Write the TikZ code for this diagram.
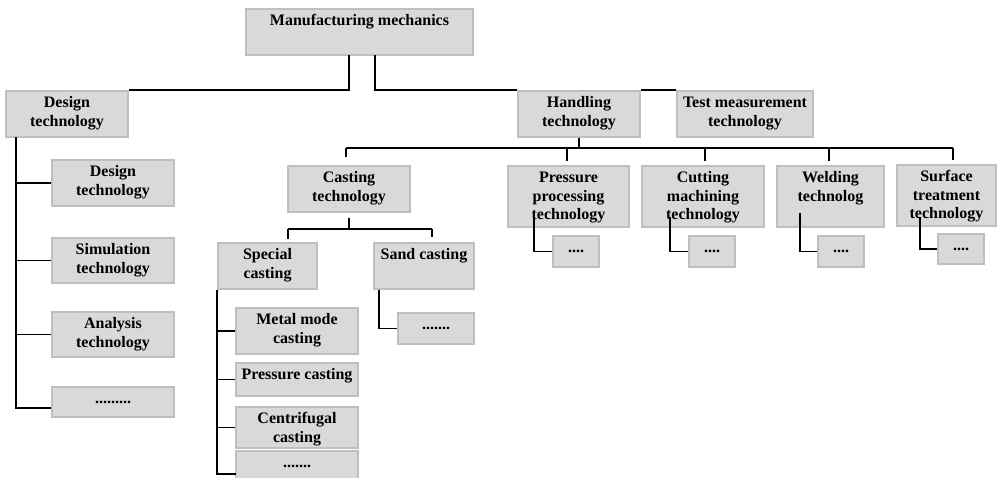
\documentclass[tikz,border=0pt]{standalone}
\usepackage{fontspec}
\setmainfont{Liberation Serif}
\definecolor{boxfill}{HTML}{D9D9D9}
\definecolor{boxline}{HTML}{BFBFBF}
\tikzset{
  gb/.style={draw=boxline, fill=boxfill, line width=1.5pt, inner sep=0pt},
  lbl/.style={font=\fontsize{16}{18.6}\selectfont\bfseries, align=center, inner sep=0pt},
  conn/.style={draw=black, line width=1.6pt},
}
% box with text at top
\newcommand\gbox[6]{%
  \node[gb, minimum width={(#4-#2)*1pt}, minimum height={(#5-#3)*1pt}] (#1) at ({(#2+#4)/2},{(#3+#5)/2}) {};
  \node[lbl, anchor=north] (#1t) at ([yshift=-6pt]#1.north) {\rule{0pt}{11pt}#6};}
% box with centred dots
\newcommand\dbox[6]{%
  \node[gb, minimum width={(#4-#2)*1pt}, minimum height={(#5-#3)*1pt}] (#1) at ({(#2+#4)/2},{(#3+#5)/2}) {};
  \node[lbl] (#1t) at (#1.center) {#6};}
\begin{document}
\begin{tikzpicture}[x=1pt,y=-1pt]
\useasboundingbox (0,0) rectangle (997,478);
\gbox{mm}{246}{9}{473}{55}{Manufacturing mechanics}
\gbox{dt}{6}{91}{128}{137}{Design\\technology}
\gbox{ht}{518}{91}{640}{137}{Handling\\technology}
\gbox{tm}{677}{91}{813}{137}{Test measurement\\technology}
\gbox{ct}{288}{166}{410}{212}{Casting\\technology}
\gbox{pp}{508}{166}{629}{227}{Pressure\\processing\\technology}
\gbox{cm}{642}{166}{764}{227}{Cutting\\machining\\technology}
\gbox{wt}{777}{166}{884}{227}{Welding\\technolog}
\gbox{st}{897}{165}{996}{226}{Surface\\treatment\\technology}
\dbox{ppd}{553}{236}{599}{267}{....}
\dbox{cmd}{689}{236}{735}{267}{....}
\dbox{wtd}{818}{236}{864}{267}{....}
\dbox{std}{938}{234}{984}{264}{....}
\gbox{d1}{52}{160}{174}{206}{Design\\technology}
\gbox{d2}{52}{238}{174}{283}{Simulation\\technology}
\gbox{d3}{52}{312}{174}{357}{Analysis\\technology}
\dbox{d4}{52}{387}{174}{417}{.........}
\gbox{sc}{218}{243}{317}{289}{Special\\casting}
\gbox{sa}{374}{243}{474}{289}{Sand casting}
\dbox{sad}{398}{313}{474}{344}{.......}
\gbox{s1}{236}{308}{358}{354}{Metal mode\\casting}
\gbox{s2}{236}{363}{358}{396}{Pressure casting}
\gbox{s3}{236}{407}{358}{448}{Centrifugal\\casting}
\dbox{s4}{236}{451}{358}{481}{.......}
% top level
\coordinate (mmL) at (349,55);
\coordinate (mmR) at (375,55);
\draw[conn] (mmL) |- (dt.north east);
\draw[conn] (mmR) |- (ht.north west);
\draw[conn] (ht.north east) -- (tm.north west);
% handling bus
\coordinate (busL) at (346,148);
\coordinate (busR) at (953,148);
\coordinate (b1) at (567,148);
\coordinate (b2) at (705,148);
\coordinate (b3) at (829,148);
\draw[conn] (ht.south) -- (ht.south |- busL);
\draw[conn] (busL) -- (busR);
\draw[conn, shorten >=8pt] (busL) -- (busL |- ct.north);
\draw[conn, shorten >=4.5pt] (b1) -- (b1 |- pp.north);
\draw[conn, shorten >=4.5pt] (b2) -- (b2 |- cm.north);
\draw[conn, shorten >=4.5pt] (b3) -- (b3 |- wt.north);
\draw[conn, shorten >=4.5pt] (busR) -- (busR |- st.north);
% small dots connectors
\coordinate (ppv) at (534,217);
\coordinate (cmv) at (670,217);
\coordinate (wtv) at (800,213);
\coordinate (stv) at (920,217);
\draw[conn] (ppv) |- (ppd.west);
\draw[conn] (cmv) |- (cmd.west);
\draw[conn] (wtv) |- (wtd.west);
\draw[conn] (stv) |- (std.west);
% design column
\coordinate (dv) at (16,137);
\draw[conn] (dv) |- ([yshift=-6pt]d4.west);
\draw[conn] (dv |- d1.west) -- (d1.west);
\draw[conn] (dv |- d2.west) -- (d2.west);
\draw[conn] (dv |- d3.west) -- (d3.west);
% casting
\coordinate (cj) at (349,229);
\coordinate (cjL) at (288,229);
\coordinate (cjR) at (432,229);
\draw[conn, shorten <=5pt] (ct.south) -- (cj);
\draw[conn] (cjL) -- (cjR);
\draw[conn, shorten >=3pt] (cjL) -- (cjL |- sc.north);
\draw[conn, shorten >=5pt] (cjR) -- (cjR |- sa.north);
% sand
\coordinate (sav) at (379,290);
\draw[conn] (sav) |- (sad.west);
% special
\coordinate (s4c) at (236,474);
\draw[conn] (sc.south west) |- (s4c);
\draw[conn] (sc.south west |- s1.west) -- (s1.west);
\draw[conn] (sc.south west |- s2.west) -- (s2.west);
\draw[conn] (sc.south west |- s3.west) -- (s3.west);
\end{tikzpicture}
\end{document}
